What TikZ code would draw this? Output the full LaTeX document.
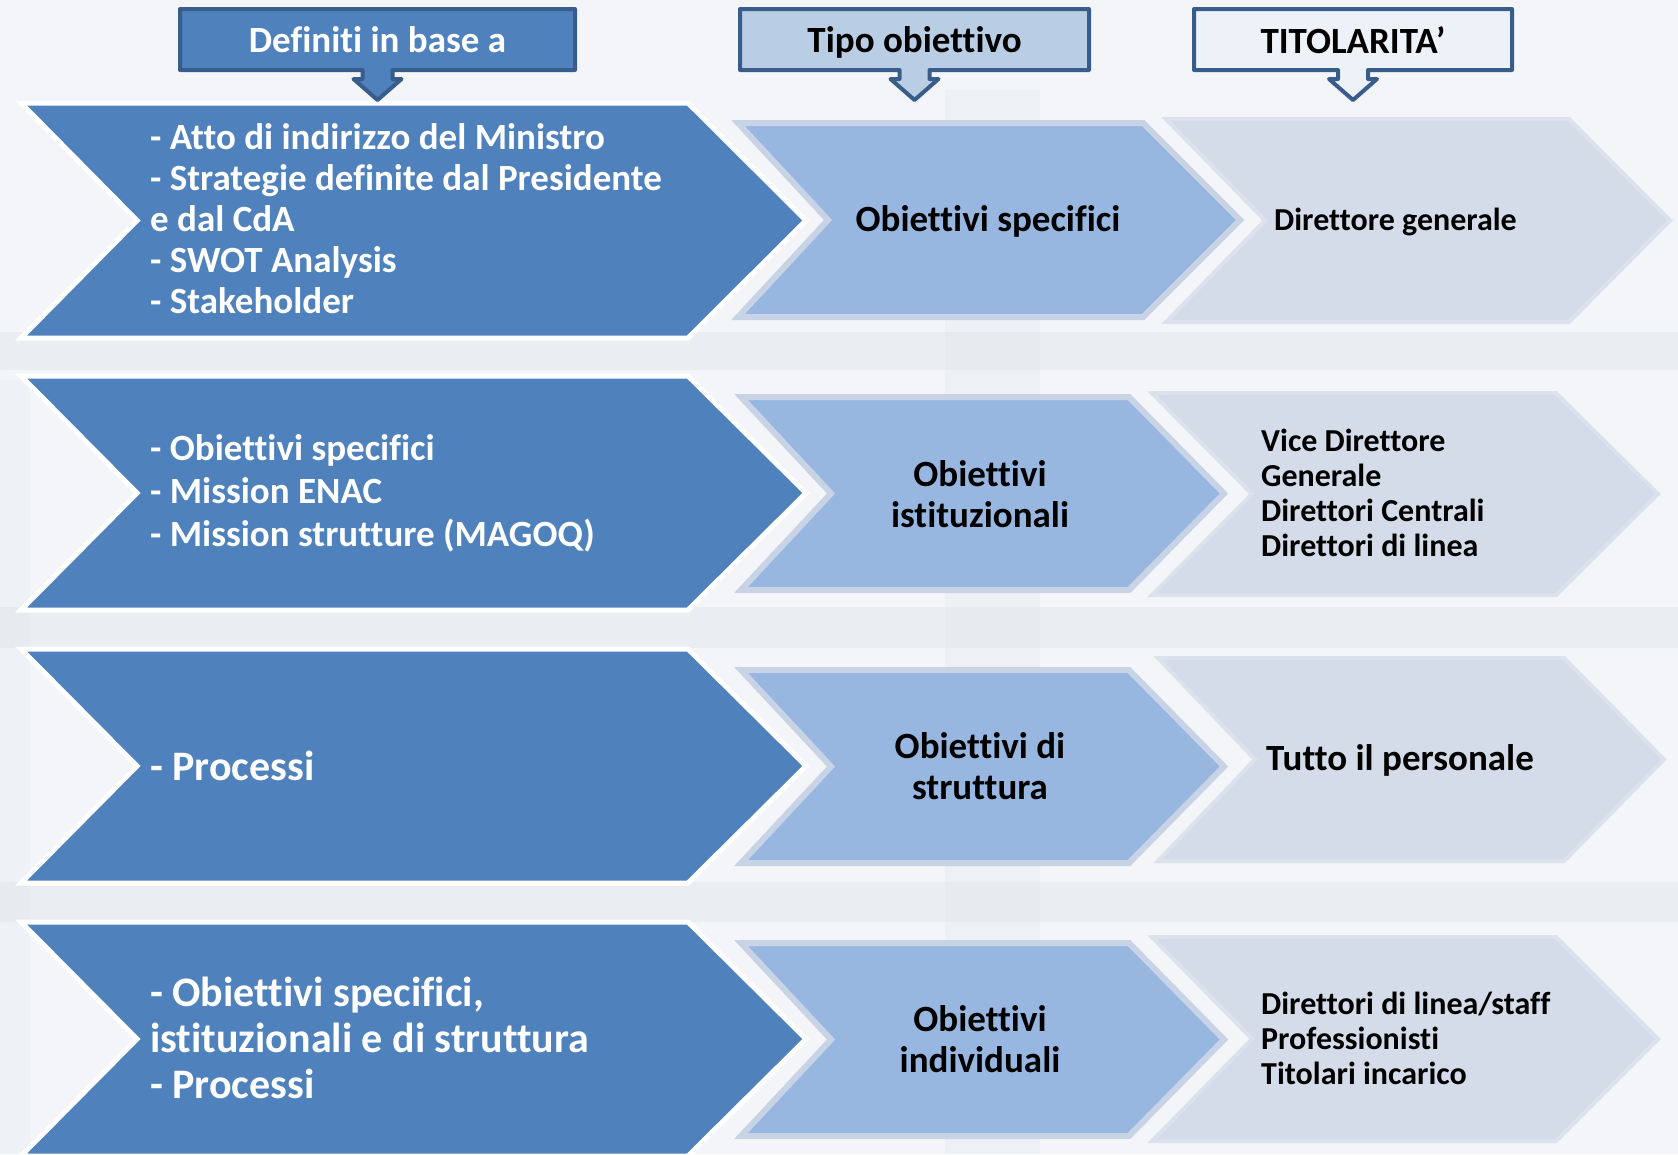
\documentclass[tikz,border=0pt]{standalone}
\usepackage{fontspec}
\setmainfont{Carlito}[Ligatures={TeX,NoCommon}]
\definecolor{dark}{HTML}{4F81BD}
\definecolor{darkline}{HTML}{385D8A}
\definecolor{med}{HTML}{97B7E1}
\definecolor{medline}{HTML}{C8D4E6}
\definecolor{lite}{HTML}{D4DCE9}
\definecolor{liteline}{HTML}{DCE2EC}
\definecolor{hdrtwo}{HTML}{B9CDE5}
\definecolor{hdrthree}{HTML}{EDF1F8}
\definecolor{bgc}{HTML}{F3F5F8}
\definecolor{bgband}{HTML}{DCE2E9}
\newcommand\mychev[7]{%
  \path[#1] (#2,#3) -- (#5,#3) -- ({#5+#6},{(#3+#4)/2}) -- (#5,#4) -- (#2,#4) -- ({#2+#7},{(#3+#4)/2}) -- cycle;}
\newcommand\myhdr[3]{%
  \path[#1] (#2,9) -- (#3,9) -- (#3,70) -- ({(#2+#3)/2+15},70) -- ({(#2+#3)/2+15},79) -- ({(#2+#3)/2+24},79) -- ({(#2+#3)/2},100) -- ({(#2+#3)/2-24},79) -- ({(#2+#3)/2-15},79) -- ({(#2+#3)/2-15},70) -- (#2,70) -- cycle;}
\tikzset{
  darkshape/.style={fill=dark, draw=white, line width=5, line join=miter},
  medshape/.style={fill=med, draw=medline, line width=6, line join=miter},
  liteshape/.style={fill=lite, draw=liteline, line width=4, line join=miter},
  hdrshape/.style={draw=darkline, line width=4, line join=round},
  darktxt/.style={text=white, align=left, inner sep=0pt, anchor=west},
  medtxt/.style={text=black, align=center, inner sep=0pt},
  litetxt/.style={text=black, align=left, inner sep=0pt, anchor=west},
  hdrtxt/.style={inner sep=0pt, font=\bfseries\fontsize{37}{41}\selectfont},
}
\begin{document}
\begin{tikzpicture}[x=1pt, y=-1pt]
\useasboundingbox (0,0) rectangle (1678,1154);
% background
\fill[bgc] (0,0) rectangle (1678,1154);
\fill[bgband, opacity=0.22] (945,90) rectangle (1040,1154);
\fill[bgband, opacity=0.35] (0,332) rectangle (1678,370);
\fill[bgband, opacity=0.35] (0,607) rectangle (1678,648);
\fill[bgband, opacity=0.35] (0,882) rectangle (1678,922);
\fill[bgband, opacity=0.2] (0,380) rectangle (30,1154);
% row 1
\mychev{darkshape}{21}{103}{338}{688}{118}{116}
\mychev{liteshape}{1166}{119}{322}{1569}{101}{99}
\mychev{medshape}{738}{123}{317}{1143}{97}{90}
% row 2
\mychev{darkshape}{21}{376}{610}{688}{118}{116}
\mychev{liteshape}{1152}{393}{595}{1556}{102}{100}
\mychev{medshape}{741}{397}{590}{1129}{95}{90}
% row 3
\mychev{darkshape}{21}{649}{883}{688}{118}{116}
\mychev{liteshape}{1158}{658}{861}{1564}{100}{97}
\mychev{medshape}{741}{670}{863}{1129}{95}{90}
% row 4
\mychev{darkshape}{21}{922}{1156}{688}{118}{116}
\mychev{liteshape}{1152}{937}{1141}{1556}{102}{100}
\mychev{medshape}{741}{943}{1136}{1129}{95}{90}
% headers
\myhdr{hdrshape, fill=dark}{180}{575}
\myhdr{hdrshape, fill=hdrtwo}{740}{1089}
\myhdr{hdrshape, fill=hdrthree}{1194}{1512}
\node[hdrtxt, text=white] (h1) at (377.5,40) {Definiti in base a};
\node[hdrtxt, text=black] (h2) at (914.5,42) {Tipo obiettivo};
\node[hdrtxt, text=black] (h3) at (1353,40) {TITOLARITA’};
% dark texts
\node[darktxt, font=\bfseries\fontsize{37}{41}\selectfont] (d1) at (150,219)
  {- Atto di indirizzo del Ministro\\- Strategie definite dal Presidente\\e dal CdA\\- SWOT Analysis\\- Stakeholder};
\node[darktxt, font=\bfseries\fontsize{37}{43}\selectfont] (d2) at (150,493)
  {- Obiettivi specifici\\- Mission ENAC\\- Mission strutture (MAGOQ)};
\node[darktxt, font=\bfseries\fontsize{42}{46}\selectfont] (d3) at (150,766)
  {- Processi};
\node[darktxt, font=\bfseries\fontsize{42}{46}\selectfont] (d4) at (150,1038)
  {- Obiettivi specifici,\\istituzionali e di struttura\\- Processi};
% medium texts
\node[medtxt, font=\bfseries\fontsize{37}{41}\selectfont] (m1) at (988,221) {Obiettivi specifici};
\node[medtxt, font=\bfseries\fontsize{37}{41}\selectfont] (m2) at (980,494) {Obiettivi\\istituzionali};
\node[medtxt, font=\bfseries\fontsize{37}{41}\selectfont] (m3) at (980,766) {Obiettivi di\\struttura};
\node[medtxt, font=\bfseries\fontsize{37}{41}\selectfont] (m4) at (980,1039) {Obiettivi\\individuali};
% light texts
\node[litetxt, font=\bfseries\fontsize{32}{35}\selectfont] (l1) at (1274,222) {Direttore generale};
\node[litetxt, font=\bfseries\fontsize{32}{35}\selectfont] (l2) at (1261,493) {Vice Direttore\\Generale\\Direttori Centrali\\Direttori di linea};
\node[litetxt, font=\bfseries\fontsize{37}{41}\selectfont] (l3) at (1266,760) {Tutto il personale};
\node[litetxt, font=\bfseries\fontsize{32}{35}\selectfont] (l4) at (1261,1038) {Direttori di linea/staff\\Professionisti\\Titolari incarico};
\end{tikzpicture}
\end{document}
